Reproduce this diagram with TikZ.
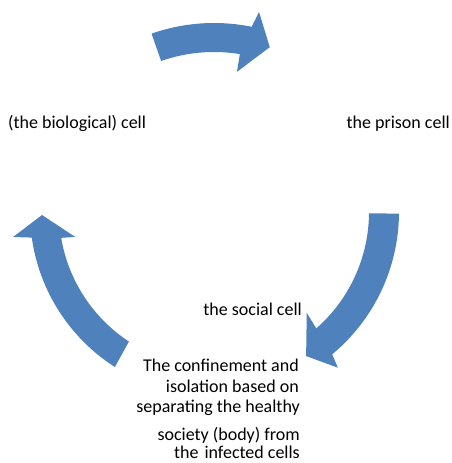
\documentclass[tikz,border=0pt]{standalone}
\usepackage{fontspec}
\setmainfont{Carlito}
\definecolor{cycleblue}{HTML}{4F81BD}

\begin{document}
\begin{tikzpicture}[x=1pt,y=1pt,
  cyclearrow/.style={fill=cycleblue,draw=none},
  lbl/.style={inner sep=0pt,font=\fontsize{18}{20}\selectfont}]
\useasboundingbox (0,0) rectangle (451,463);
\coordinate (c) at (214,251);
% top arrow
\fill[cyclearrow] ([shift={(109.3:189)}]c) arc[start angle=109.3,end angle=78.5,radius=189]
  -- ([shift={(77.3:205)}]c) -- ([shift={(71.3:174)}]c) -- ([shift={(80.7:142)}]c)
  -- ([shift={(80.7:160)}]c) arc[start angle=80.7,end angle=109.3,radius=160] -- cycle;
% right arrow
\fill[cyclearrow] ([shift={(-0.5:185)}]c) arc[start angle=-0.5,end angle=-50.3,radius=185]
  -- ([shift={(-51.5:199)}]c) -- ([shift={(-57.4:171)}]c) -- ([shift={(-47.4:137)}]c)
  -- ([shift={(-48.7:155)}]c) arc[start angle=-48.7,end angle=-0.5,radius=155] -- cycle;
% left arrow
\fill[cyclearrow] ([shift={(237.4:184)}]c) arc[start angle=237.4,end angle=188,radius=184]
  -- ([shift={(187.1:202.5)}]c) -- ([shift={(181:172)}]c) -- ([shift={(190.2:141)}]c)
  -- ([shift={(189.6:155)}]c) arc[start angle=189.6,end angle=236.7,radius=155] -- cycle;

\node[lbl,anchor=base west] (bio) at (8,334) {(the biological) cell};
\node[lbl,anchor=base east] (prison) at (450,334) {the prison cell};
\node[lbl,anchor=base east] (social) at (302,147) {the social cell};
\node[lbl,anchor=base east] (conf1) at (299,91) {The confinement and};
\node[lbl,anchor=base east] (conf2) at (299,70.5) {isolation based on};
\node[lbl,anchor=base east] (conf3) at (300,50.5) {separating the healthy};
\node[lbl,anchor=base east] (conf4) at (300,22.5) {society (body) from};
\node[lbl,anchor=base east] (conf5) at (300,5) {the\hspace{6pt}infected cells};
\end{tikzpicture}
\end{document}
